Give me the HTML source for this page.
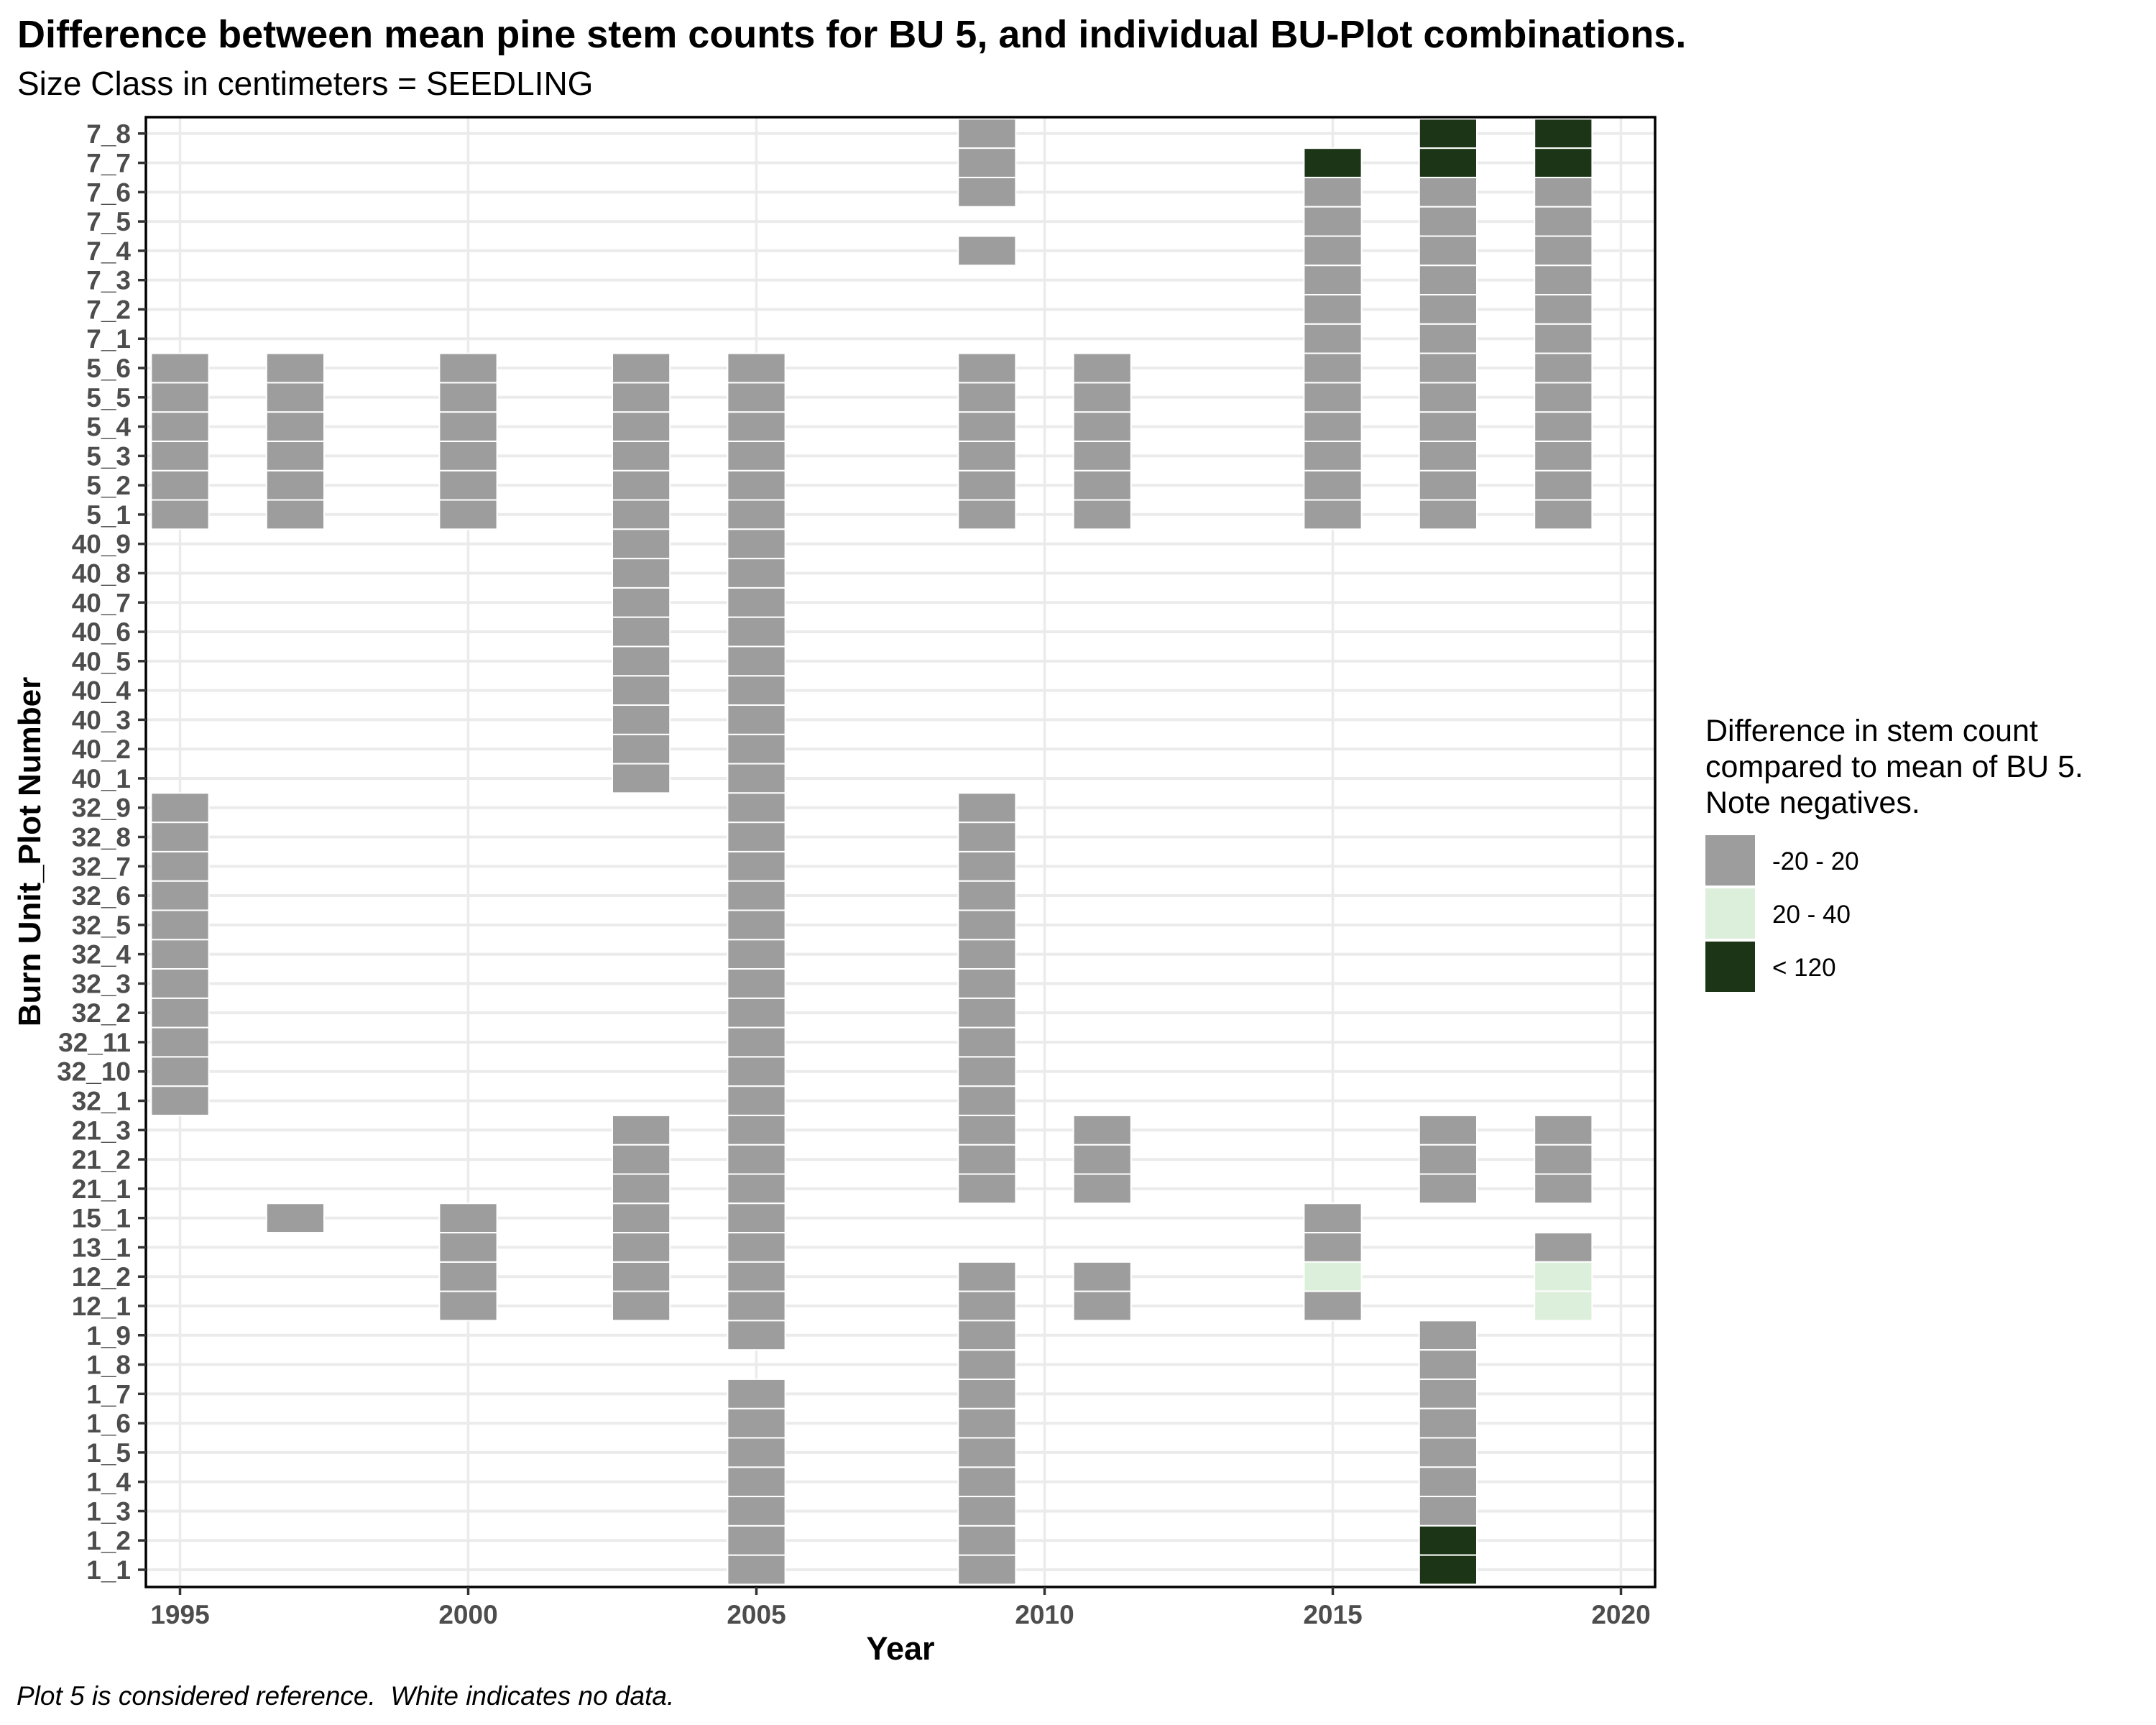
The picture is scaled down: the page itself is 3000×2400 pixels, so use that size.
<!DOCTYPE html>
<html><head><meta charset="utf-8"><style>
html,body{margin:0;padding:0;background:#fff;}
svg{display:block;font-family:"Liberation Sans",Arial,sans-serif;}
</style></head><body>
<svg id="chart" width="3000" height="2400" viewBox="0 0 3000 2400" xmlns="http://www.w3.org/2000/svg">
<text x="24" y="66" font-size="54" font-weight="bold" fill="#000">Difference between mean pine stem counts for BU 5, and individual BU-Plot combinations.</text>
<text x="24" y="132" font-size="46" fill="#000">Size Class in centimeters = SEEDLING</text>
<g id="grid"></g>
<g id="tiles"></g>
<rect x="203" y="163" width="2100" height="2045" fill="none" stroke="#000" stroke-width="3.5"/>
<g id="yaxis"></g>
<g id="xaxis"></g>
<text x="1253" y="2309" font-size="45" font-weight="bold" text-anchor="middle" fill="#000">Year</text>
<text transform="translate(56,1185) rotate(-90)" font-size="44" font-weight="bold" text-anchor="middle" fill="#000">Burn Unit_Plot Number</text>
<g transform="translate(-31,-14)">
<text x="2404" y="1045" font-size="43" fill="#000">Difference in stem count</text>
<text x="2404" y="1095" font-size="43" fill="#000">compared to mean of BU 5.</text>
<text x="2404" y="1145" font-size="43" fill="#000">Note negatives.</text>
<rect x="2404" y="1176" width="69" height="70" fill="#9c9d9c"/>
<rect x="2404" y="1250" width="69" height="70" fill="#dcefda"/>
<rect x="2404" y="1324" width="69" height="70" fill="#1b3516"/>
<text x="2497" y="1224" font-size="35" fill="#000">-20 - 20</text>
<text x="2497" y="1298" font-size="35" fill="#000">20 - 40</text>
<text x="2497" y="1372" font-size="35" fill="#000">&lt; 120</text>
</g>
<text x="23" y="2372" font-size="37" font-style="italic" fill="#000">Plot 5 is considered reference.&#160; White indicates no data.</text>
</svg>
<script>
const rowLabels = ["1_1","1_2","1_3","1_4","1_5","1_6","1_7","1_8","1_9","12_1","12_2","13_1","15_1","21_1","21_2","21_3","32_1","32_10","32_11","32_2","32_3","32_4","32_5","32_6","32_7","32_8","32_9","40_1","40_2","40_3","40_4","40_5","40_6","40_7","40_8","40_9","5_1","5_2","5_3","5_4","5_5","5_6","7_1","7_2","7_3","7_4","7_5","7_6","7_7","7_8"];
const xTicks = [1995,2000,2005,2010,2015,2020];
const years = [1995,1997,2000,2003,2005,2009,2011,2015,2017,2019];
const col1995 = [["5_1",0],["5_2",0],["5_3",0],["5_4",0],["5_5",0],["5_6",0],["32_1",0],["32_10",0],["32_11",0],["32_2",0],["32_3",0],["32_4",0],["32_5",0],["32_6",0],["32_7",0],["32_8",0],["32_9",0]];
const col1997 = [["5_1",0],["5_2",0],["5_3",0],["5_4",0],["5_5",0],["5_6",0],["15_1",0]];
const col2000 = [["5_1",0],["5_2",0],["5_3",0],["5_4",0],["5_5",0],["5_6",0],["12_1",0],["12_2",0],["13_1",0],["15_1",0]];
const col2003 = [["5_1",0],["5_2",0],["5_3",0],["5_4",0],["5_5",0],["5_6",0],["40_1",0],["40_2",0],["40_3",0],["40_4",0],["40_5",0],["40_6",0],["40_7",0],["40_8",0],["40_9",0],["12_1",0],["12_2",0],["13_1",0],["15_1",0],["21_1",0],["21_2",0],["21_3",0]];
const col2005 = [["5_1",0],["5_2",0],["5_3",0],["5_4",0],["5_5",0],["5_6",0],["40_1",0],["40_2",0],["40_3",0],["40_4",0],["40_5",0],["40_6",0],["40_7",0],["40_8",0],["40_9",0],["32_1",0],["32_10",0],["32_11",0],["32_2",0],["32_3",0],["32_4",0],["32_5",0],["32_6",0],["32_7",0],["32_8",0],["32_9",0],["21_1",0],["21_2",0],["21_3",0],["15_1",0],["13_1",0],["12_1",0],["12_2",0],["1_9",0],["1_1",0],["1_2",0],["1_3",0],["1_4",0],["1_5",0],["1_6",0],["1_7",0]];
const col2009 = [["7_8",0],["7_7",0],["7_6",0],["7_4",0],["5_1",0],["5_2",0],["5_3",0],["5_4",0],["5_5",0],["5_6",0],["32_1",0],["32_10",0],["32_11",0],["32_2",0],["32_3",0],["32_4",0],["32_5",0],["32_6",0],["32_7",0],["32_8",0],["32_9",0],["21_1",0],["21_2",0],["21_3",0],["12_1",0],["12_2",0],["1_1",0],["1_2",0],["1_3",0],["1_4",0],["1_5",0],["1_6",0],["1_7",0],["1_8",0],["1_9",0]];
const col2011 = [["5_1",0],["5_2",0],["5_3",0],["5_4",0],["5_5",0],["5_6",0],["21_1",0],["21_2",0],["21_3",0],["12_1",0],["12_2",0]];
const col2015 = [["7_7",130],["7_6",0],["7_5",0],["7_4",0],["7_3",0],["7_2",0],["7_1",0],["5_1",0],["5_2",0],["5_3",0],["5_4",0],["5_5",0],["5_6",0],["15_1",0],["13_1",0],["12_2",30],["12_1",0]];
const col2017 = [["7_8",130],["7_7",130],["7_6",0],["7_5",0],["7_4",0],["7_3",0],["7_2",0],["7_1",0],["5_1",0],["5_2",0],["5_3",0],["5_4",0],["5_5",0],["5_6",0],["21_1",0],["21_2",0],["21_3",0],["1_9",0],["1_8",0],["1_7",0],["1_6",0],["1_5",0],["1_4",0],["1_3",0],["1_2",130],["1_1",130]];
const col2019 = [["7_8",130],["7_7",130],["7_6",0],["7_5",0],["7_4",0],["7_3",0],["7_2",0],["7_1",0],["5_1",0],["5_2",0],["5_3",0],["5_4",0],["5_5",0],["5_6",0],["21_1",0],["21_2",0],["21_3",0],["13_1",0],["12_2",30],["12_1",30]];
const columns = [col1995,col1997,col2000,col2003,col2005,col2009,col2011,col2015,col2017,col2019];

const NS = "http://www.w3.org/2000/svg";
const PL = 203, PR = 2303, PT = 163, PB = 2208;
const x = yr => 250.5 + (yr - 1995) * 80.2;
const rowStep = 40.78;
const y = lab => 2184 - rowLabels.indexOf(lab) * rowStep;
function color(v){ return v < 20 ? "#9c9d9c" : (v < 40 ? "#dcefda" : "#1b3516"); }
function mk(tag, attrs, parent){ const e = document.createElementNS(NS, tag); for (const k in attrs) e.setAttribute(k, attrs[k]); parent.appendChild(e); return e; }

const grid = document.getElementById("grid");
const yaxis = document.getElementById("yaxis");
const xaxis = document.getElementById("xaxis");
const tiles = document.getElementById("tiles");

rowLabels.forEach(lab => {
  const yy = y(lab);
  const g = mk("line", {x1:PL, x2:PR, y1:yy, y2:yy, stroke:"#ebebeb", "stroke-width":4}, grid);
  
  
  const t = mk("line", {x1:192, x2:203, y1:yy, y2:yy, stroke:"#333", "stroke-width":3.5}, yaxis);
  
  
  const tx = mk("text", {x:182, y:yy+13, "font-size":37, "font-weight":"bold", fill:"#4d4d4d", "text-anchor":"end"}, yaxis);
  tx.textContent = lab;
  
  
});
xTicks.forEach(yr => {
  const xx = x(yr);
  const g = mk("line", {x1:xx, x2:xx, y1:PT, y2:PB, stroke:"#ebebeb", "stroke-width":3.5}, grid);
  
  
  const t = mk("line", {x1:xx, x2:xx, y1:PB, y2:PB+11, stroke:"#333", "stroke-width":3.5}, xaxis);
  
  
  const tx = mk("text", {x:xx, y:2259, "font-size":37, "font-weight":"bold", fill:"#4d4d4d", "text-anchor":"middle"}, xaxis);
  tx.textContent = yr;
  
  
});
columns.forEach((col, i) => {
  const yr = years[i];
  col.forEach(([lab, v]) => {
    const r = mk("rect", {x:x(yr)-40.1, y:y(lab)-rowStep/2, width:80.2, height:rowStep, fill:color(v), stroke:"#fff", "stroke-width":2}, tiles);
    
    
  });
});
</script>
</body></html>
